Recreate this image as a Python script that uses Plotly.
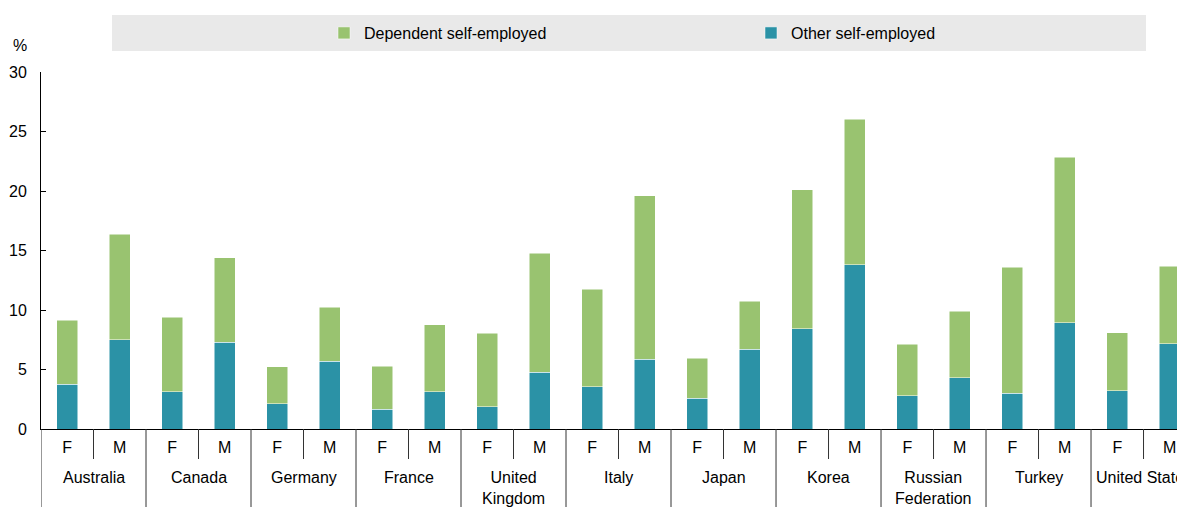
import plotly.graph_objects as go

countries = ["Australia", "Canada", "Germany", "France", "United<br>Kingdom", "Italy",
             "Japan", "Korea", "Russian<br>Federation", "Turkey", "United States"]
sexes = ["F", "M"]

# Totals and "other self-employed" (%)
total = [9.16, 16.35, 9.38, 14.40, 5.24, 10.25, 5.29, 8.74, 8.04, 14.76, 11.74,
         19.60, 5.94, 10.73, 20.10, 26.05, 7.14, 9.89, 13.61, 22.83, 8.10, 13.67]
other = [3.78, 7.50, 3.14, 7.31, 2.13, 5.71, 1.68, 3.11, 1.88, 4.79, 3.56,
         5.88, 2.58, 6.72, 8.43, 13.80, 2.80, 4.31, 3.00, 8.93, 3.22, 7.17]
dependent = [round(t - o, 2) for t, o in zip(total, other)]

inner = [s for _ in countries for s in sexes]
xpos = list(range(len(inner)))

GREEN = "#99c370"
TEAL = "#2b92a6"
FONT = "Liberation Sans, Arial, sans-serif"
FS = 16

# page body has an 8px default margin; compensate so plot sits where the reference has it
OFF = 8
W, H = 1185, 507
L, R, T, B = 41 - OFF, OFF, 72 - OFF, 78 + OFF
pw, ph = W - L - R, H - T - B
PLOT_L, PLOT_B = 41, 429  # screen pixels of the plot's left edge and bottom


def px(xp):
    return (xp - PLOT_L) / pw


def py(yp):
    return (PLOT_B - yp) / ph


fig = go.Figure()
fig.add_trace(go.Bar(x=xpos, y=other, name="Other self-employed",
                     marker=dict(color=TEAL, line=dict(color="white", width=0.5))))
fig.add_trace(go.Bar(x=xpos, y=dependent, name="Dependent self-employed",
                     marker=dict(color=GREEN, line=dict(color="white", width=0.5))))

# legend background
fig.add_shape(type="rect", xref="paper", yref="paper",
              x0=px(112), x1=px(1146), y0=py(51), y1=py(15),
              fillcolor="#e9e9e9", line=dict(width=0), layer="below")

# separators between F and M, and between countries
for i in range(len(countries)):
    fig.add_shape(type="line", xref="x", yref="paper",
                  x0=2 * i + 0.5, x1=2 * i + 0.5, y0=0, y1=py(459),
                  line=dict(color="#333333", width=1))
    fig.add_shape(type="line", xref="x", yref="paper",
                  x0=2 * i - 0.5, x1=2 * i - 0.5, y0=0, y1=py(510),
                  line=dict(color="#333333", width=1))
    fig.add_annotation(text=countries[i], xref="x", yref="paper",
                       x=2 * i + 0.5, y=py(467), yanchor="top", xanchor="center",
                       showarrow=False, font=dict(family=FONT, size=FS, color="black"))

fig.add_annotation(text="%", xref="paper", yref="paper", x=px(20), y=py(45),
                   showarrow=False, font=dict(family=FONT, size=FS, color="black"),
                   xanchor="center", yanchor="middle")

fig.update_layout(
    width=W, height=H,
    margin=dict(l=L, r=R, t=T, b=B, autoexpand=False),
    barmode="stack",
    bargap=0.6,
    plot_bgcolor="white", paper_bgcolor="white",
    font=dict(family=FONT, size=FS, color="black"),
    showlegend=True,
    legend=dict(orientation="h", traceorder="reversed",
                x=px(324), xanchor="left", y=py(33), yanchor="middle",
                bgcolor="rgba(0,0,0,0)", entrywidth=382, entrywidthmode="pixels",
                font=dict(family=FONT, size=FS)),
    xaxis=dict(range=[-0.5, 21.29], tickvals=xpos, ticktext=inner,
               showline=True, linecolor="black", linewidth=1, automargin=False,
               ticks="", showgrid=False, zeroline=False, ticklabelstandoff=4),
    yaxis=dict(range=[0, 30], tickvals=[0, 5, 10, 15, 20, 25, 30],
               showline=True, linecolor="black", linewidth=1, automargin=False,
               ticks="inside", ticklen=5, tickcolor="black",
               showgrid=False, zeroline=False, ticklabelstandoff=10),
)

fig.write_html("out.html")
